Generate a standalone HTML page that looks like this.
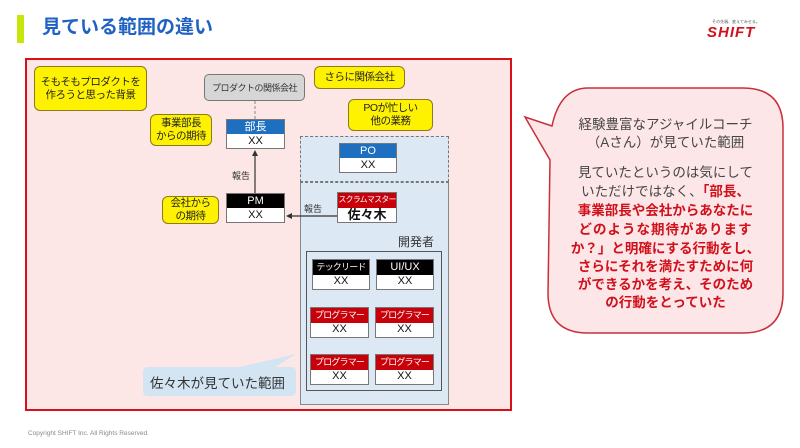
<!DOCTYPE html>
<html><head><meta charset="utf-8"><style>
*{margin:0;padding:0;box-sizing:border-box}
body{width:800px;height:448px;background:#fff;position:relative;overflow:hidden;font-family:"Liberation Sans","Noto Sans CJK JP",sans-serif}
.a{position:absolute}
.y{position:absolute;background:#fff200;border:1.5px solid #8a7a20;border-radius:6px;font-size:10.5px;color:#222;text-align:center;display:flex;align-items:center;justify-content:center;line-height:13px;white-space:nowrap;letter-spacing:-0.5px}
.n{position:absolute;border:1px solid #777;background:#fff;font-size:11px;text-align:center;white-space:nowrap;overflow:hidden}
.n .h{color:#fff;height:50%;display:flex;align-items:center;justify-content:center;line-height:1}
.n .b{height:50%;display:flex;align-items:center;justify-content:center;line-height:1;color:#111}
.n .s{font-size:9px;letter-spacing:-0.8px}
.bl{background:#1e6fc0}.bk{background:#000}.rd{background:#c8000a}
.ln{position:absolute;color:#444;font-size:13.5px;text-align:center;width:235px;left:548px;line-height:18px;white-space:nowrap}
.r{color:#d0101a;font-weight:bold}
</style></head><body>
<div class="a" style="left:17px;top:15px;width:7px;height:28px;background:#c8e60a"></div>
<div class="a" style="left:42px;top:16px;font-size:19px;font-weight:bold;color:#1f62c4;line-height:24px">見ている範囲の違い</div>
<div class="a" style="left:700px;top:19px;width:72px;font-size:4px;color:#555;text-align:center">その先端、変えてみせる。</div>
<div class="a" style="left:707px;top:24px;font-size:15px;font-weight:bold;font-style:italic;color:#d0101a;letter-spacing:1px">SHIFT</div>

<div class="a" style="left:25px;top:58px;width:487px;height:353px;border:2px solid #d8101a;background:#fde6e6"></div>

<div class="y" style="left:34px;top:66px;width:113px;height:45px">そもそもプロダクトを<br>作ろうと思った背景</div>
<div class="a" style="left:204px;top:74px;width:101px;height:27px;background:#d6d6d6;border:1.5px solid #777;border-radius:5px;font-size:9px;letter-spacing:-0.5px;white-space:nowrap;color:#333;display:flex;align-items:center;justify-content:center">プロダクトの関係会社</div>
<div class="y" style="left:314px;top:66px;width:91px;height:23px">さらに関係会社</div>
<div class="y" style="left:348px;top:99px;width:85px;height:32px">POが忙しい<br>他の業務</div>
<div class="y" style="left:150px;top:114px;width:62px;height:32px">事業部長<br>からの期待</div>
<div class="y" style="left:162px;top:196px;width:57px;height:28px">会社から<br>の期待</div>

<div class="a" style="left:300px;top:136px;width:149px;height:46px;border:1.5px dashed #777;background:#dce9f5"></div>
<div class="a" style="left:300px;top:182px;width:149px;height:223px;border:1.5px solid #888;border-top:1.5px dashed #777;background:#dce9f5"></div>
<div class="a" style="left:398px;top:233px;font-size:12px;color:#333">開発者</div>
<div class="a" style="left:306px;top:251px;width:136px;height:140px;border:1.5px solid #555"></div>

<svg class="a" style="left:0;top:0" width="800" height="448">
<line x1="255" y1="101" x2="255" y2="119" stroke="#888" stroke-dasharray="3,2"/>
<line x1="255" y1="193" x2="255" y2="154" stroke="#333" stroke-width="1.2"/>
<polygon points="255,150 252,156 258,156" fill="#333"/>
<line x1="337" y1="216" x2="290" y2="216" stroke="#333" stroke-width="1.2"/>
<polygon points="286,216 292,213 292,219" fill="#333"/>
<path d="M143,372 Q143,367 148,367 L240,367 L296,354 L275,367 L291,367 Q296,367 296,372 L296,391 Q296,396 291,396 L148,396 Q143,396 143,391 Z" fill="#d3e4f2"/>
<path d="M588,88 L743,88 Q783,88 783,128 L783,293 Q783,333 743,333 L588,333 Q548,333 548,293 L550,160 L525,117 L552,126 Q560,88 588,88 Z" fill="#fde6e8" stroke="#c8303a" stroke-width="1.5"/>
</svg>
<div class="a" style="left:232px;top:169px;font-size:9px;color:#333">報告</div>
<div class="a" style="left:304px;top:202px;font-size:9px;color:#333">報告</div>

<div class="n" style="left:226px;top:119px;width:59px;height:30px"><div class="h bl">部長</div><div class="b">XX</div></div>
<div class="n" style="left:226px;top:193px;width:59px;height:30px"><div class="h bk">PM</div><div class="b">XX</div></div>
<div class="n" style="left:339px;top:143px;width:58px;height:30px"><div class="h bl">PO</div><div class="b">XX</div></div>
<div class="n" style="left:337px;top:192px;width:60px;height:31px"><div class="h rd s" style="font-size:8px">スクラムマスター</div><div class="b" style="font-weight:bold;font-size:13px">佐々木</div></div>
<div class="n" style="left:312px;top:259px;width:58px;height:31px"><div class="h bk s">テックリード</div><div class="b">XX</div></div>
<div class="n" style="left:376px;top:259px;width:58px;height:31px"><div class="h bk">UI/UX</div><div class="b">XX</div></div>
<div class="n" style="left:310px;top:307px;width:59px;height:31px"><div class="h rd s">プログラマー</div><div class="b">XX</div></div>
<div class="n" style="left:375px;top:307px;width:59px;height:31px"><div class="h rd s">プログラマー</div><div class="b">XX</div></div>
<div class="n" style="left:310px;top:354px;width:59px;height:31px"><div class="h rd s">プログラマー</div><div class="b">XX</div></div>
<div class="n" style="left:375px;top:354px;width:59px;height:31px"><div class="h rd s">プログラマー</div><div class="b">XX</div></div>
<div class="a" style="left:150px;top:372px;font-size:13.5px;color:#333;white-space:nowrap">佐々木が見ていた範囲</div>

<div class="ln" style="top:116px">経験豊富なアジャイルコーチ</div>
<div class="ln" style="top:134px">（Aさん）が見ていた範囲</div>
<div class="ln" style="top:164px">見ていたというのは気にして</div>
<div class="ln" style="top:183px">いただけではなく、<span class="r">「部長、</span></div>
<div class="ln r" style="top:202px">事業部長や会社からあなたに</div>
<div class="ln r" style="top:221px;letter-spacing:1px">どのような期待があります</div>
<div class="ln r" style="top:240px">か？」と明確にする行動をし、</div>
<div class="ln r" style="top:258px">さらにそれを満たすために何</div>
<div class="ln r" style="top:276px">ができるかを考え、そのため</div>
<div class="ln r" style="top:294px">の行動をとっていた</div>

<div class="a" style="left:28px;top:430px;font-size:6.5px;color:#888">Copyright SHIFT Inc. All Rights Reserved.</div>
</body></html>
